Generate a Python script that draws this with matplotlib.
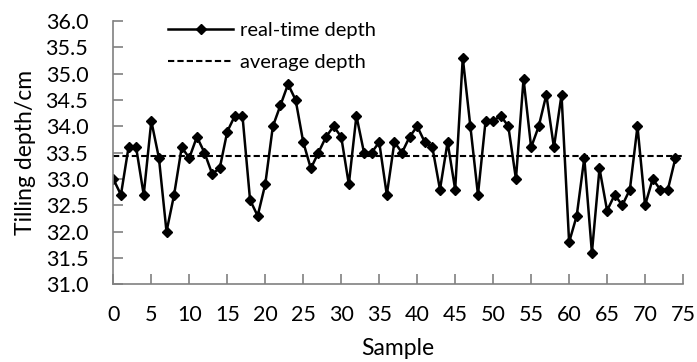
import numpy as np
from matplotlib import pyplot as plt

# real-time tilling depth per sample (cm)
depth = [33.0, 32.7, 33.6, 33.6, 32.7, 34.1, 33.4, 32.0, 32.7, 33.6,
         33.4, 33.8, 33.5, 33.1, 33.2, 33.9, 34.2, 34.2, 32.6, 32.3,
         32.9, 34.0, 34.4, 34.8, 34.5, 33.7, 33.2, 33.5, 33.8, 34.0,
         33.8, 32.9, 34.2, 33.5, 33.5, 33.7, 32.7, 33.7, 33.5, 33.8,
         34.0, 33.7, 33.6, 32.8, 33.7, 32.8, 35.3, 34.0, 32.7, 34.1,
         34.1, 34.2, 34.0, 33.0, 34.9, 33.6, 34.0, 34.6, 33.6, 34.6,
         31.8, 32.3, 33.4, 31.6, 33.2, 32.4, 32.7, 32.5, 32.8, 34.0,
         32.5, 33.0, 32.8, 32.8, 33.4]
sample = np.arange(len(depth))
avg_depth = np.mean(depth)

x_ticks = np.arange(0, 80, 5)
y_ticks = np.arange(31.0, 36.01, 0.5)

plt.rcParams['font.family'] = ['Lato', 'DejaVu Sans']

fig = plt.figure(figsize=(6.97, 3.62), dpi=100)
ax = fig.add_axes([0.1626, 0.2146, 0.8174, 0.7274])

ax.plot(sample, depth, color='black', linewidth=1.8, marker='D', markersize=5,
        label='real-time depth')
ax.axhline(avg_depth, color='black', linestyle=(0, (3, 1.5)), linewidth=1.5,
           label='average depth')

ax.set_xlim(0, 75)
ax.set_ylim(31.0, 36.0)
ax.set_xticks(x_ticks)
ax.set_yticks(y_ticks)
ax.set_yticklabels(['%.1f' % v for v in y_ticks])

for side in ['top', 'right']:
    ax.spines[side].set_visible(False)
for side in ['left', 'bottom']:
    ax.spines[side].set_color('#808080')
    ax.spines[side].set_linewidth(1.2)
ax.tick_params(direction='in', length=7, width=1.2, color='#808080',
               labelsize=15.5, labelcolor='black')
ax.tick_params(axis='x', pad=15)
ax.tick_params(axis='y', pad=18)

ax.set_xlabel('Sample', fontsize=16.5, labelpad=9)
ax.set_ylabel('Tilling depth/cm', fontsize=16.5, labelpad=7)

ax.legend(loc='upper left', bbox_to_anchor=(0.065, 1.065), frameon=False,
          fontsize=14.5, handlelength=3.2, handletextpad=0.35, labelspacing=0.75)

fig.savefig('out.png', dpi=100)
